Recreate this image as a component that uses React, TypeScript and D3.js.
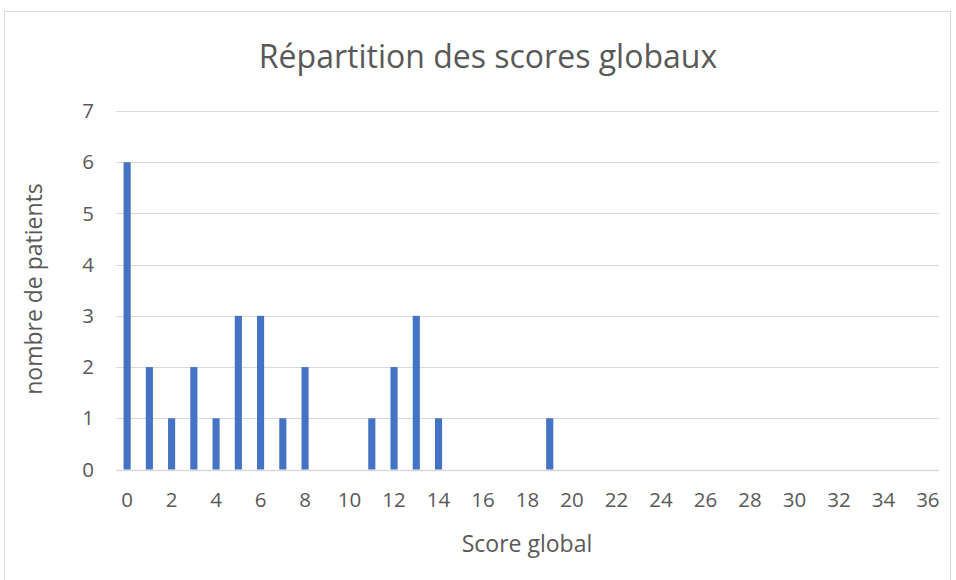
import React from "react";
import * as d3 from "d3";

// scores 0..36, patient counts per score
const scores = d3.range(0, 37);
const patients = [6, 2, 1, 2, 1, 3, 3, 1, 2, 0, 0, 1, 2, 3, 1, 0, 0, 0, 0, 1,
  0, 0, 0, 0, 0, 0, 0, 0, 0, 0, 0, 0, 0, 0, 0, 0, 0];
const yTicks = [0, 1, 2, 3, 4, 5, 6, 7];

const title = "Répartition des scores globaux";
const xTitle = "Score global";
const yTitle = "nombre de patients";

export default function App() {
  const width = 956;
  const height = 580;
  const margin = { top: 111, right: 17, bottom: 111, left: 116 };
  const font = "'Open Sans', 'Noto Sans', sans-serif";
  const grey = "#595959";

  const x = d3
    .scaleBand<number>()
    .domain(scores)
    .range([margin.left, width - margin.right])
    .paddingInner(0.68)
    .paddingOuter(0.34);

  const y = d3
    .scaleLinear()
    .domain([0, 7])
    .range([height - margin.bottom + 0.5, margin.top]);

  return (
    <svg
      width={width}
      height={height}
      style={{ position: "absolute", left: 0, top: 0, background: "#fff" }}
    >
      <rect x={4.5} y={11.5} width={946} height={600} fill="#fff" stroke="#d9d9d9" />
      <text x={488} y={68} textAnchor="middle" fontFamily={font} fontSize={32} fill={grey}>
        {title}
      </text>

      {yTicks.map((t) => (
        <g key={t}>
          <line
            x1={margin.left}
            x2={width - margin.right}
            y1={Math.round(y(t)) + 0.5}
            y2={Math.round(y(t)) + 0.5}
            stroke="#d9d9d9"
            strokeWidth={t === 0 ? 1.5 : 1}
          />
          <text
            x={94}
            y={y(t)}
            dy="0.35em"
            textAnchor="end"
            fontFamily={font}
            fontSize={20.5}
            fill={grey}
          >
            {t}
          </text>
        </g>
      ))}

      {scores.map((s, i) => (
        <rect
          key={s}
          x={x(s)}
          y={y(patients[i])}
          width={x.bandwidth()}
          height={y(0) - y(patients[i])}
          fill="#4472C4"
        />
      ))}

      {scores
        .filter((s) => s % 2 === 0)
        .map((s) => (
          <text
            key={s}
            x={(x(s) as number) + x.bandwidth() / 2}
            y={507}
            textAnchor="middle"
            fontFamily={font}
            fontSize={20.5}
            fill={grey}
          >
            {s}
          </text>
        ))}

      <text x={527} y={552} textAnchor="middle" fontFamily={font} fontSize={23} fill={grey}>
        {xTitle}
      </text>
      <text
        transform="translate(42,289) rotate(-90)"
        textAnchor="middle"
        fontFamily={font}
        fontSize={23}
        fill={grey}
      >
        {yTitle}
      </text>
    </svg>
  );
}
